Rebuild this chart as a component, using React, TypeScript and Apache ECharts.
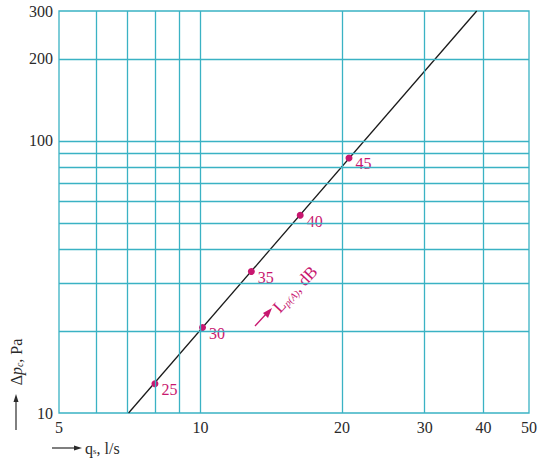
import React, { useEffect, useRef } from "react";
import * as echarts from "echarts";

const xTickLabels = [5, 10, 20, 30, 40, 50];
const yTickLabels = [10, 100, 200, 300];
const xGridValues = [6, 7, 8, 9, 10, 20, 30, 40];
const yGridValues = [20, 30, 40, 50, 60, 70, 80, 90, 100, 200];
const lineQ = [7.03, 38.7];
const lineDp = [10, 300];
const pointQ = [8.0, 10.1, 12.83, 16.3, 20.7];
const pointDp = [12.8, 20.6, 33.1, 53.3, 86.5];
const pointLabels = ["25", "30", "35", "40", "45"];

const GRID = "#3ab2c4";
const MAG = "#c8176f";
const TXT = "#2a2a2a";
const FONT = "Times New Roman";

export default function App() {
  const ref = useRef<HTMLDivElement>(null);
  useEffect(() => {
    if (!ref.current) return;
    const chart = echarts.init(ref.current, undefined, { renderer: "svg" });
    const option: any = {
      animation: false,
      backgroundColor: "#ffffff",
      textStyle: { fontFamily: FONT },
      grid: {
        left: 59,
        top: 11,
        width: 470,
        height: 402,
        show: true,
        borderColor: GRID,
        borderWidth: 1.3,
        backgroundColor: "transparent",
      },
      xAxis: {
        type: "log",
        logBase: 10,
        min: 5,
        max: 50,
        axisLine: { show: false },
        axisTick: { show: false },
        splitLine: { show: false },
        minorSplitLine: { show: false },
        axisLabel: {
          customValues: xTickLabels,
          color: TXT,
          fontFamily: FONT,
          fontSize: 16,
          margin: 6,
        },
      },
      yAxis: {
        type: "log",
        logBase: 10,
        min: 10,
        max: 300,
        axisLine: { show: false },
        axisTick: { show: false },
        splitLine: { show: false },
        minorSplitLine: { show: false },
        axisLabel: {
          customValues: yTickLabels,
          color: TXT,
          fontFamily: FONT,
          fontSize: 16,
          margin: 6,
        },
      },
      series: [
        {
          type: "line",
          data: [],
          silent: true,
          markLine: {
            silent: true,
            symbol: "none",
            label: { show: false },
            lineStyle: { color: GRID, type: "solid", width: 1.3 },
            data: [
              ...xGridValues.map((v) => ({ xAxis: v })),
              ...yGridValues.map((v) => ({ yAxis: v })),
            ],
          },
        },
        {
          type: "line",
          data: lineQ.map((q, i) => [q, lineDp[i]]),
          showSymbol: false,
          lineStyle: { color: "#1a1a1a", width: 1.3 },
          silent: true,
          z: 3,
        },
        {
          type: "scatter",
          data: pointQ.map((q, i) => ({ value: [q, pointDp[i]], name: pointLabels[i] })),
          symbol: "circle",
          symbolSize: 7,
          itemStyle: { color: MAG, opacity: 1 },
          z: 4,
          label: {
            show: true,
            position: "right",
            distance: 3,
            offset: [0, 6],
            formatter: (p: any) => p.name,
            color: MAG,
            fontFamily: FONT,
            fontSize: 16,
          },
        },
      ],
      graphic: [
        // y-axis title
        {
          type: "text",
          x: 16,
          y: 362,
          rotation: Math.PI / 2,
          style: {
            text: "{a|Δ}{i|p}{s|c}{a|, Pa}",
            fontFamily: FONT,
            fontSize: 16,
            fill: TXT,
            align: "center",
            verticalAlign: "middle",
            rich: {
              a: { fontFamily: FONT, fontSize: 16, fill: TXT },
              i: { fontFamily: FONT, fontSize: 16, fontStyle: "italic", fill: TXT },
              s: { fontFamily: FONT, fontSize: 10, fontStyle: "italic", fill: TXT, padding: [6, 0, 0, 0] },
            },
          },
        },
        { type: "line", shape: { x1: 16, y1: 430, x2: 16, y2: 400 }, style: { stroke: TXT, lineWidth: 1.2 } },
        { type: "polygon", shape: { points: [[16, 394], [13.5, 402], [18.5, 402]] }, style: { fill: TXT } },
        // x-axis title
        { type: "line", shape: { x1: 52, y1: 448, x2: 76, y2: 448 }, style: { stroke: TXT, lineWidth: 1.2 } },
        { type: "polygon", shape: { points: [[82, 448], [74, 445.5], [74, 450.5]] }, style: { fill: TXT } },
        {
          type: "text",
          x: 85,
          y: 448,
          style: {
            text: "{a|q}{s|s}{a|, l/s}",
            fontFamily: FONT,
            fontSize: 16,
            fill: TXT,
            align: "left",
            verticalAlign: "middle",
            rich: {
              a: { fontFamily: FONT, fontSize: 16, fill: TXT },
              s: { fontFamily: FONT, fontSize: 9, fill: TXT, padding: [6, 0, 0, 0] },
            },
          },
        },
        // L_p annotation
        { type: "line", shape: { x1: 255, y1: 326, x2: 267, y2: 313 }, style: { stroke: MAG, lineWidth: 1.3 } },
        { type: "polygon", shape: { points: [[272, 308], [263, 313], [268, 318]] }, style: { fill: MAG } },
        {
          type: "text",
          x: 276,
          y: 310,
          rotation: 0.82,
          style: {
            text: "{a|L}{s|p(A)}{a|, dB}",
            fontFamily: FONT,
            fontSize: 17,
            fill: MAG,
            align: "left",
            verticalAlign: "middle",
            rich: {
              a: { fontFamily: FONT, fontSize: 17, fill: MAG },
              s: { fontFamily: FONT, fontSize: 10, fontStyle: "italic", fill: MAG, padding: [7, 0, 0, 0] },
            },
          },
        },
      ],
    };
    chart.setOption(option);
    return () => chart.dispose();
  }, []);
  return (
    <div
      ref={ref}
      style={{ position: "fixed", left: 0, top: 0, width: 553, height: 459 }}
    />
  );
}
